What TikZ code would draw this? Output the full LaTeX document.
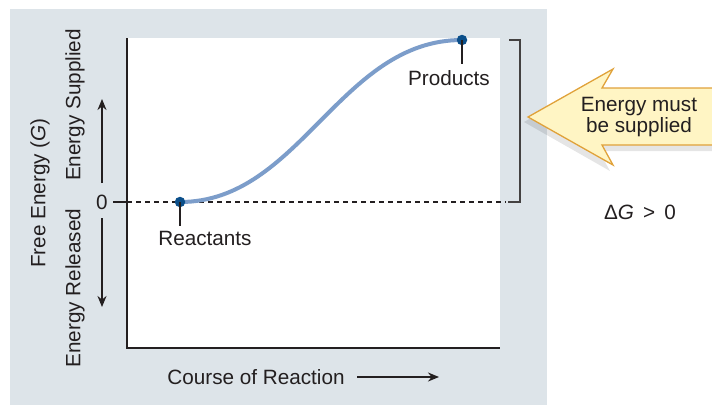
\documentclass[tikz,border=0pt]{standalone}
\usepackage{fontspec}
\setmainfont{Liberation Sans}
\usetikzlibrary{arrows.meta}
\definecolor{panel}{HTML}{DDE4E9}
\definecolor{curveblue}{HTML}{7C9DCA}
\definecolor{dotblue}{HTML}{0B4F8A}
\definecolor{ink}{HTML}{231F20}
\definecolor{callfill}{HTML}{FFF5C4}
\definecolor{callline}{HTML}{E0A23A}
\tikzset{
  lbl/.style={inner sep=0pt, text=ink, font=\fontsize{20.7}{21}\selectfont},
  axisline/.style={draw=ink, line width=2.8pt},
  ticks/.style={draw=ink, line width=2.2pt},
  curveline/.style={draw=curveblue, line width=4pt},
  pt/.style={circle, fill=dotblue, inner sep=0pt, minimum size=10.5pt},
  arr/.style={draw=ink, line width=2.4pt, -{Stealth[length=11pt,width=9pt]}},
  bracket/.style={draw=ink!85, line width=1.6pt},
  zeroline/.style={draw=ink, line width=1.2pt, dash pattern=on 5pt off 4pt},
}
\begin{document}
\begin{tikzpicture}[x=1pt,y=-1pt]
\useasboundingbox (0,0) rectangle (712,405);
% panel and plot area
\fill[panel] (10,9) rectangle (547,405);
\fill[white] (127,38) rectangle (500,348);
\coordinate (top) at (127,38);
\coordinate (origin) at (127,348);
\coordinate (xend) at (500,348);
\draw[axisline] (top) -- (origin) -- (xend);
% zero line
\coordinate (z0) at (113,202);
\coordinate (z1) at (127,202);
\coordinate (z2) at (506,202);
\draw[ticks] (z0) -- (z1);
\draw[zeroline] (z1) -- (z2);
\node[lbl] (zero) at (102,202) {0};
% bracket
\coordinate (b1) at (508,202);
\coordinate (b2) at (520,202);
\coordinate (b3) at (520,40);
\coordinate (b4) at (509,40);
\draw[bracket] (b1) -- (b2) -- (b3) -- (b4);
% curve
\coordinate (R) at (180,202);
\coordinate (P) at (462,40);
\draw[curveline] (R) .. controls (300,202) and (340,40) .. (P);
\node[pt] (Rd) at (R) {};
\node[pt] (Pd) at (P) {};
\coordinate (Rt) at (180,226);
\coordinate (Pt) at (462,64);
\draw[ticks] (Rd.center) -- (Rt);
\draw[ticks] (Pd.center) -- (Pt);
\node[lbl] (react) at (205,238) {Reactants};
\node[lbl] (prod) at (449,78) {Products};
% left labels
\node[lbl, rotate=90] (fe) at (40,193) {Free Energy (\textit{G})};
\node[lbl, rotate=90] (es) at (75,105) {Energy Supplied};
\node[lbl, rotate=90] (er) at (75,288) {Energy Released};
\coordinate (u0) at (102,183);
\coordinate (u1) at (102,99);
\coordinate (d0) at (102,218);
\coordinate (d1) at (102,307);
\draw[arr] (u0) -- (u1);
\draw[arr] (d0) -- (d1);
% x label
\node[lbl] (course) at (256,377) {Course of Reaction};
\coordinate (c0) at (357,377);
\coordinate (c1) at (439,377);
\draw[arr] (c0) -- (c1);
% callout arrow
\fill[black, opacity=0.10] (524,122) -- (610,73) -- (599,93) -- (712,93) -- (712,151) -- (599,151) -- (610,171) -- cycle;
\fill[callfill] (528,117) -- (613,69) -- (602,88) -- (712,88) -- (712,145) -- (602,145) -- (613,165) -- cycle;
\draw[callline, line width=1.3pt, line join=miter] (712,88) -- (602,88) -- (613,69) -- (528,117) -- (613,165) -- (602,145) -- (712,145);
\node[lbl, align=center] (msg) at (639,117) {Energy must\\be supplied};
% delta G
\node[lbl] (dg) at (640,212) {Δ\textit{G} \,>\, 0};
\end{tikzpicture}
\end{document}
